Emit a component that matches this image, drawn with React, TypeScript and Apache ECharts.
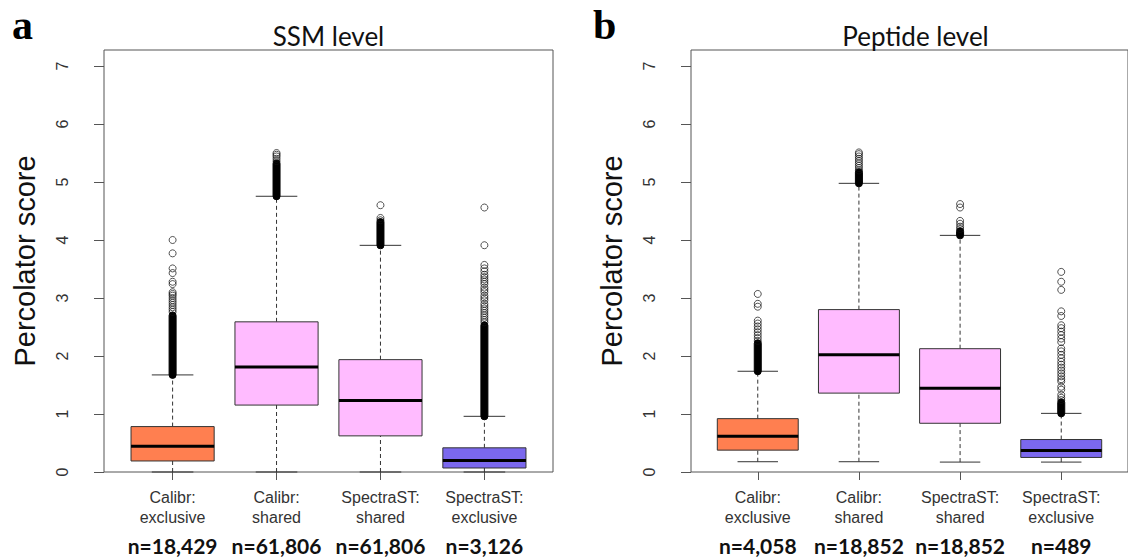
import React, { useEffect, useRef } from "react";
import * as echarts from "echarts";

const categories = ["Calibr:\nexclusive", "Calibr:\nshared", "SpectraST:\nshared", "SpectraST:\nexclusive"];
const ssmCounts = ["n=18,429", "n=61,806", "n=61,806", "n=3,126"];
const peptideCounts = ["n=4,058", "n=18,852", "n=18,852", "n=489"];
const yTicks = [0, 1, 2, 3, 4, 5, 6, 7];
const xTicks = [1, 2, 3, 4];
const boxColors = ["#FF7F50", "#FFBBFF", "#FFBBFF", "#7B68EE"];

// [lower whisker, Q1, median, Q3, upper whisker]
const ssmBoxes = [
  [0, 0.19, 0.446, 0.783, 1.674],
  [0, 1.154, 1.811, 2.589, 4.754],
  [0, 0.623, 1.234, 1.937, 3.908],
  [0, 0.069, 0.2, 0.417, 0.96],
];
const peptideBoxes = [
  [0.177, 0.377, 0.617, 0.92, 1.737],
  [0.177, 1.36, 2.023, 2.8, 4.977],
  [0.171, 0.84, 1.446, 2.126, 4.08],
  [0.171, 0.251, 0.371, 0.56, 1.011],
];

// dense (overplotted) outlier runs: [low, high] per box
const ssmDense = [[1.674, 2.7], [4.754, 5.32], [3.908, 4.31], [0.96, 2.53]];
const peptideDense = [[1.737, 2.22], [4.977, 5.17], [4.08, 4.15], [1.011, 1.2]];

// individual outliers per box
const ssmOutliers = [
  [4.0, 3.77, 3.51, 3.43, 3.28, 3.24, 3.1, 3.07, 3.04, 3.0, 2.96, 2.92, 2.88, 2.84, 2.8, 2.76],
  [5.36, 5.4, 5.44, 5.47, 5.5],
  [4.34, 4.38, 4.6],
  [2.58, 2.62, 2.66, 2.7, 2.74, 2.78, 2.82, 2.86, 2.9, 2.96, 3.0, 3.04, 3.1, 3.14, 3.18, 3.24, 3.28, 3.32, 3.36, 3.4, 3.46, 3.51, 3.57, 3.91, 4.56],
];
const peptideOutliers = [
  [2.26, 2.31, 2.36, 2.41, 2.46, 2.51, 2.56, 2.61, 2.85, 2.9, 3.07],
  [5.2, 5.24, 5.28, 5.32, 5.36, 5.4, 5.44, 5.48, 5.51],
  [4.19, 4.23, 4.28, 4.33, 4.56, 4.62],
  [1.24, 1.28, 1.33, 1.42, 1.47, 1.56, 1.6, 1.65, 1.7, 1.75, 1.8, 1.85, 1.9, 1.96, 2.02, 2.08, 2.13, 2.24, 2.3, 2.36, 2.42, 2.48, 2.53, 2.69, 2.77, 3.14, 3.28, 3.45],
];

const panels = [
  { title: "SSM level", letter: "a", boxes: ssmBoxes, dense: ssmDense, outliers: ssmOutliers, counts: ssmCounts, left: 104 },
  { title: "Peptide level", letter: "b", boxes: peptideBoxes, dense: peptideDense, outliers: peptideOutliers, counts: peptideCounts, left: 691 },
];

const GRID_W = 449;
const GRID_TOP = 50;
const GRID_BOTTOM = 85;
const SANS = "'Liberation Sans', Arial, sans-serif";
const FRAME = "#555";
const INK = "#333";

function boxRender(params: any, api: any) {
  const x = api.value(0);
  const lo = api.coord([x, api.value(1)]);
  const q1 = api.coord([x, api.value(2)]);
  const med = api.coord([x, api.value(3)]);
  const q3 = api.coord([x, api.value(4)]);
  const hi = api.coord([x, api.value(5)]);
  const w = api.size([0.8, 0])[0];
  const cx = lo[0];
  const cap = w / 4;
  const dash = { stroke: INK, lineWidth: 1, lineDash: [4, 3] };
  const solid = { stroke: INK, lineWidth: 1 };
  return {
    type: "group",
    children: [
      { type: "line", shape: { x1: cx, y1: q3[1], x2: cx, y2: hi[1] }, style: dash },
      { type: "line", shape: { x1: cx, y1: lo[1], x2: cx, y2: q1[1] }, style: dash },
      { type: "line", shape: { x1: cx - cap, y1: hi[1], x2: cx + cap, y2: hi[1] }, style: solid },
      { type: "line", shape: { x1: cx - cap, y1: lo[1], x2: cx + cap, y2: lo[1] }, style: solid },
      {
        type: "rect",
        shape: { x: cx - w / 2, y: q3[1], width: w, height: q1[1] - q3[1] },
        style: { fill: boxColors[params.dataIndex], stroke: INK, lineWidth: 1 },
      },
      { type: "line", shape: { x1: cx - w / 2, y1: med[1], x2: cx + w / 2, y2: med[1] }, style: { stroke: "#000", lineWidth: 3 } },
    ],
  };
}

function denseRender(params: any, api: any) {
  const x = api.value(0);
  const a = api.coord([x, api.value(1)]);
  const b = api.coord([x, api.value(2)]);
  const d = 7;
  return {
    type: "rect",
    shape: { x: a[0] - d / 2, y: b[1] - d / 2, width: d, height: a[1] - b[1] + d, r: d / 2 },
    style: { fill: "#000", stroke: "#000", lineWidth: 1 },
  };
}

function buildOption() {
  const grid: any[] = [];
  const xAxis: any[] = [];
  const yAxis: any[] = [];
  const series: any[] = [];
  const graphic: any[] = [];

  panels.forEach((p, i) => {
    grid.push({
      left: p.left,
      top: GRID_TOP,
      width: GRID_W,
      bottom: GRID_BOTTOM,
      show: true,
      borderColor: FRAME,
      borderWidth: 1,
      backgroundColor: "transparent",
    });
    xAxis.push({
      type: "value",
      gridIndex: i,
      min: 0.34,
      max: 4.66,
      splitLine: { show: false },
      axisLine: { show: false },
      axisTick: { show: true, customValues: xTicks, length: 8, lineStyle: { color: FRAME } },
      axisLabel: {
        show: true,
        customValues: xTicks,
        margin: 15,
        formatter: (v: number) => {
          const k = Math.round(v) - 1;
          const [l1, l2] = categories[k].split("\n");
          return `{c|${l1}}\n{c|${l2}}\n{n|${p.counts[k]}}`;
        },
        rich: {
          c: { fontSize: 16, fontFamily: SANS, color: INK, lineHeight: 20, align: "center" },
          n: { fontSize: 21, fontFamily: "Lato, 'Noto Sans', sans-serif", fontWeight: "bold", color: "#111", lineHeight: 36, align: "center" },
        },
      },
    });
    yAxis.push({
      type: "value",
      gridIndex: i,
      min: 0,
      max: 7.276,
      name: "Percolator score",
      nameLocation: "middle",
      nameRotate: 90,
      nameGap: 65,
      nameTextStyle: { fontSize: 29, fontFamily: SANS, color: "#111" },
      splitLine: { show: false },
      axisLine: { show: false },
      axisTick: { show: true, customValues: yTicks, length: 10, lineStyle: { color: FRAME } },
      axisLabel: {
        show: true,
        customValues: yTicks,
        rotate: 90,
        margin: 34,
        fontSize: 16,
        fontFamily: SANS,
        color: INK,
        formatter: (v: number) => String(v),
      },
    });
    series.push({
      type: "custom",
      name: p.title + " boxes",
      xAxisIndex: i,
      yAxisIndex: i,
      renderItem: boxRender,
      encode: { x: 0, y: [1, 2, 3, 4, 5] },
      data: p.boxes.map((b, k) => [k + 1, ...b]),
      z: 2,
    });
    series.push({
      type: "custom",
      name: p.title + " dense outliers",
      xAxisIndex: i,
      yAxisIndex: i,
      renderItem: denseRender,
      encode: { x: 0, y: [1, 2] },
      data: p.dense.map((d, k) => [k + 1, d[0], d[1]]),
      z: 3,
    });
    const pts: number[][] = [];
    p.outliers.forEach((list, k) => list.forEach((v) => pts.push([k + 1, v])));
    series.push({
      type: "scatter",
      name: p.title + " outliers",
      xAxisIndex: i,
      yAxisIndex: i,
      symbol: "circle",
      symbolSize: 7,
      itemStyle: { color: "rgba(0,0,0,0)", borderColor: "#111", borderWidth: 0.9 },
      data: pts,
      z: 4,
    });
    graphic.push({
      type: "text",
      x: p.left + GRID_W / 2,
      y: 36,
      style: {
        text: p.title,
        font: "26px Lato, 'Noto Sans', sans-serif",
        fill: "#111",
        align: "center",
        verticalAlign: "middle",
      },
    });
    graphic.push({
      type: "text",
      x: i === 0 ? 12 : 593,
      y: 25,
      style: {
        text: p.letter,
        font: "bold 42px 'Liberation Serif', 'DejaVu Serif', serif",
        fill: "#000",
        align: "left",
        verticalAlign: "middle",
      },
    });
  });

  return {
    animation: false,
    backgroundColor: "#fff",
    grid,
    xAxis,
    yAxis,
    series,
    graphic,
  };
}

export default function App() {
  const ref = useRef<HTMLDivElement>(null);
  useEffect(() => {
    if (!ref.current) return;
    const chart = echarts.init(ref.current, undefined, { renderer: "svg" });
    chart.setOption(buildOption() as any);
    return () => chart.dispose();
  }, []);
  return (
    <div
      ref={ref}
      style={{ position: "fixed", left: 0, top: 0, width: 1128, height: 557, background: "#fff" }}
    />
  );
}
